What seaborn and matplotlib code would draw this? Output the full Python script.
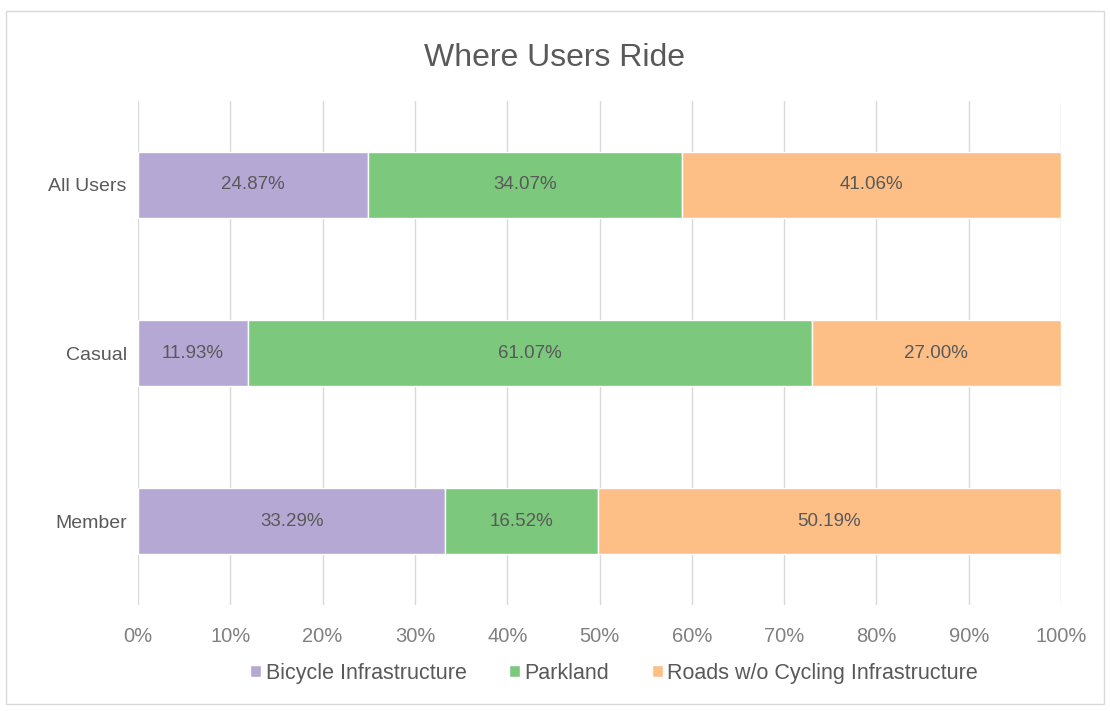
import matplotlib.pyplot as plt
import seaborn as sns
import pandas as pd
from matplotlib.patches import Rectangle

groups = ['All Users', 'Casual', 'Member']
bicycle = [24.87, 11.93, 33.29]
parkland = [34.07, 61.07, 16.52]
roads = [41.06, 27.00, 50.19]
series_names = ['Bicycle Infrastructure', 'Parkland', 'Roads w/o Cycling Infrastructure']
colors = ['#b6a8d5', '#7cc87c', '#fdbf86']
ticks = [0, 10, 20, 30, 40, 50, 60, 70, 80, 90, 100]

sns.set_theme(style='white')
plt.rcParams['font.family'] = ['Liberation Sans', 'DejaVu Sans']

df = pd.DataFrame({'group': groups, series_names[0]: bicycle,
                   series_names[1]: parkland, series_names[2]: roads})

fig = plt.figure(figsize=(11.1, 7.11), dpi=100)
ax = fig.add_axes([0.1243, 0.149, 0.8316, 0.709])

left = [0, 0, 0]
for name, col in zip(series_names, colors):
    vals = df[name].tolist()
    bars = ax.barh(df['group'], vals, left=left, height=0.39, color=col,
                   label=name, zorder=3)
    ax.bar_label(bars, labels=[f'{v:.2f}%' for v in vals], label_type='center',
                 color='#595959', fontsize=13.5)
    left = [l + v for l, v in zip(left, vals)]

ax.set_xlim(0, 100)
ax.set_ylim(2.5, -0.5)
ax.set_xticks(ticks)
ax.set_xticklabels([f'{t}%' for t in ticks], color='#808080', fontsize=14.5)
ax.tick_params(axis='y', labelcolor='#595959', labelsize=14, length=0, pad=8)
ax.tick_params(axis='x', length=0, pad=16)
ax.grid(axis='x', color='#d9d9d9', linewidth=1, zorder=0)
for s in ax.spines.values():
    s.set_visible(False)

fig.text(0.5, 0.918, 'Where Users Ride', ha='center', va='center',
         fontsize=23, color='#595959')
ax.legend(loc='center', bbox_to_anchor=(0.516, -0.135), ncol=3,
          frameon=False, fontsize=15.5, labelcolor='#595959', handlelength=0.5,
          handleheight=0.5, handletextpad=0.2, columnspacing=2.0)

fig.patches.append(Rectangle((0.005, 0.01), 0.99, 0.975, transform=fig.transFigure,
                             fill=False, edgecolor='#d9d9d9', linewidth=1))

fig.savefig('out.png', dpi=100)
